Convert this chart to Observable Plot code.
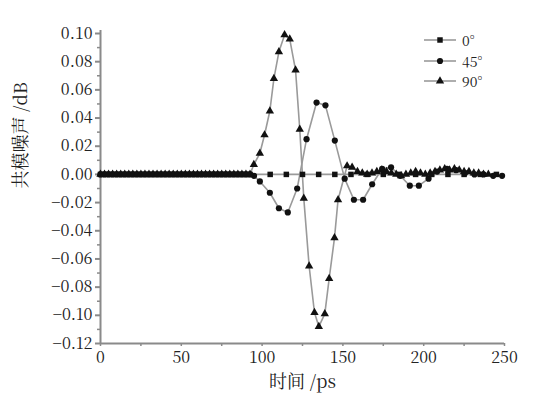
<!DOCTYPE html>
<html><head><meta charset="utf-8">
<script src="https://cdn.jsdelivr.net/npm/d3@7"></script>
<script src="https://cdn.jsdelivr.net/npm/@observablehq/plot@0.6"></script>
<style>
body{margin:0;background:#fff;}
#wrap{position:relative;width:560px;height:406px;}
#legend{position:absolute;left:424px;top:30px;font-size:14px;color:#222;line-height:20.5px;}
#legend div{display:flex;align-items:center;height:20.5px;}
#legend svg{margin-right:6px;}
</style></head>
<body><div id="wrap"><div id="chart"></div><div id="legend"></div></div>
<script>
// time axis (ps) of the dense pre-pulse samples shared by all series
const tDense = [0,2.5,5,7.5,10,12.5,15,17.5,20,22.5,25,27.5,30,32.5,35,37.5,40,42.5,45,47.5,50,52.5,55,57.5,60,62.5,65,67.5,70,72.5,75,77.5,80,82.5,85,87.5,90,92.5];
const vDense = [0,0,0,0,0,0,0,0,0,0,0,0,0,0,0,0,0,0,0,0,0,0,0,0,0,0,0,0,0,0,0,0,0,0,0,0,0,0];

// 0° series (squares)
const t0 = [105,115,125,135,145,155,165,175,185,195,205,215,225,235,245];
const v0 = [0,0,0,0,0,0,0,0,0,0,0,0,0,0,0];

// 45° series (circles)
const t45 = [95,98.6,104.8,110.4,115.9,121.7,127.5,133.7,139.2,145,151.1,156.8,162.5,168.1,174.3,179.8,185.5,191.4,197,203,208.3,214.4,220,225.6,231.4,237,243,248.5];
const v45 = [-0.001,-0.005,-0.013,-0.024,-0.027,-0.010,0.025,0.051,0.049,0.024,-0.003,-0.018,-0.018,-0.007,0.004,0.005,-0.001,-0.008,-0.008,-0.003,0.002,0.004,0.003,0.001,0.000,0.000,-0.001,-0.001];

// 90° series (triangles)
const t90 = [94.9,98.6,101.5,104.8,107.3,110.4,113.9,117.1,120.7,123.3,125.8,129.1,132.4,135.1,138.8,141.5,144.8,147,152.6,155.7,159,162,165,168,171,174,177,180,183,186,189,192,195,198,201,204,207,210,213,216,219,222,225,228,231,234,237,240];
const v90 = [0.007,0.015,0.028,0.045,0.068,0.087,0.099,0.096,0.074,0.032,-0.017,-0.065,-0.098,-0.108,-0.099,-0.074,-0.045,-0.018,0.006,0.005,0.002,0.001,0.000,0.001,0.002,0.003,0.002,0.001,0.000,-0.001,0.000,0.001,0.002,0.001,0.000,0.001,0.002,0.003,0.004,0.003,0.004,0.003,0.002,0.002,0.001,0.001,0.000,0.000];

const seriesNames = ["0°","45°","90°"];
const symbols = ["square","circle","triangle"];

const yTicks = [-0.12,-0.10,-0.08,-0.06,-0.04,-0.02,0,0.02,0.04,0.06,0.08,0.10];
const yMinor = [-0.11,-0.09,-0.07,-0.05,-0.03,-0.01,0.01,0.03,0.05,0.07,0.09];
const xTicks = [0,50,100,150,200,250];
const xMinor = [25,75,125,175,225];

function build(name, ts, vs) {
  const rows = tDense.map((t,i)=>({t, v:vDense[i], s:name}));
  ts.forEach((t,i)=>rows.push({t, v:vs[i], s:name}));
  return rows;
}
const data = [
  ...build("0°", t0, v0),
  ...build("45°", t45, v45),
  ...build("90°", t90, v90)
];

const fmt = d => (d < 0 ? "\u2212" : "") + Math.abs(d).toFixed(2);
const axisColor = "#8a8a8a";
const serifFont = '"Noto Serif CJK SC", "Noto Sans CJK SC", serif';

const plot = Plot.plot({
  width: 560, height: 406,
  marginLeft: 100, marginRight: 56, marginTop: 33, marginBottom: 63,
  style: {fontSize: "16px", color: "#222", background: "#fff"},
  x: {type: "linear", domain: [0,250]},
  y: {type: "linear", domain: [-0.12,0.10]},
  symbol: {domain: seriesNames, range: symbols},
  marks: [
    Plot.axisY({ticks: yMinor, tickSize: 3, tickFormat: () => "", stroke: axisColor, strokeWidth: 1.5, label: null}),
    Plot.axisY({ticks: yTicks, tickFormat: fmt, tickSize: 5, tickPadding: 3, stroke: axisColor, strokeWidth: 2, fontSize: 16, fill: "#222", label: null}),
    Plot.axisX({ticks: [...xTicks, ...xMinor], tickSize: 3, tickFormat: () => "", stroke: axisColor, strokeWidth: 1.5, label: null}),
    Plot.axisX({ticks: xTicks, tickSize: 0, tickPadding: 8, fontSize: 16, fill: "#222", label: null}),
    Plot.ruleX([0], {stroke: axisColor, strokeWidth: 2, insetTop: -3}),
    Plot.ruleY([-0.12], {stroke: axisColor, strokeWidth: 2}),
    Plot.line(data, {x: "t", y: "v", z: "s", stroke: "#9a9a9a", strokeWidth: 1.6}),
    Plot.dot(data, {x: "t", y: "v", symbol: "s", fill: "#111", r: 3.1, stroke: "none"}),
    Plot.text(["时间 /ps"], {frameAnchor: "bottom", dy: 44, fontSize: 18, fill: "#222"}),
    Plot.text(["共模噪声 /dB"], {frameAnchor: "left", dx: -79, rotate: -90, fontSize: 18, fill: "#222"})
  ]
});
document.getElementById("chart").appendChild(plot);
plot.querySelectorAll("text").forEach(t => t.style.fontFamily = serifFont);

// legend
const leg = document.getElementById("legend");
const symGen = {square: d3.symbolSquare, circle: d3.symbolCircle, triangle: d3.symbolTriangle};
seriesNames.forEach((n,i)=>{
  const row = document.createElement("div");
  const path = d3.symbol(symGen[symbols[i]], 30)();
  row.innerHTML = `<svg width="32" height="12"><line x1="0" x2="32" y1="6" y2="6" stroke="#9a9a9a" stroke-width="1.6"/><path d="${path}" transform="translate(16,6)" fill="#111"/></svg><span>${n}</span>`;
  row.querySelector("span").style.fontFamily = serifFont;
  leg.appendChild(row);
});
</script></body></html>
